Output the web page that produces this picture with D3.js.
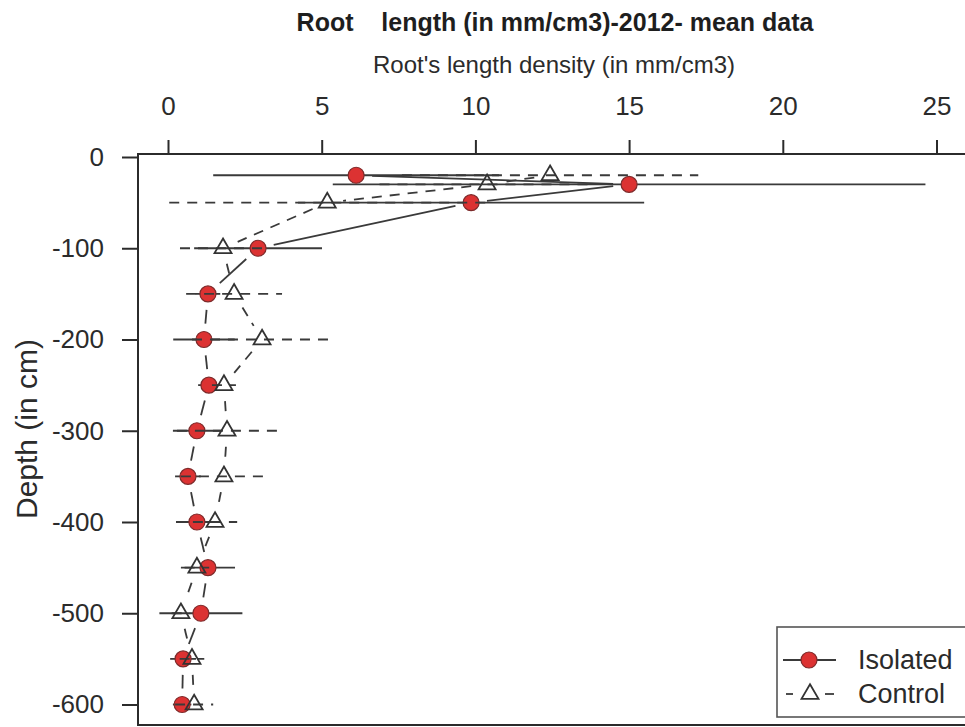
<!DOCTYPE html>
<html>
<head>
<meta charset="utf-8">
<script src="https://cdn.jsdelivr.net/npm/d3@7"></script>
<style>
  body { margin: 0; background: #fff; }
  svg { display: block; }
</style>
</head>
<body>
<div id="chart"></div>
<script>
// --- Data ---
const depths = [-20, -30, -50, -100, -150, -200, -250, -300, -350, -400, -450, -500, -550, -600];
const isolatedMean = [6.12, 15.0, 9.86, 2.93, 1.30, 1.17, 1.33, 0.94, 0.65, 0.94, 1.30, 1.07, 0.49, 0.46];
const isolatedSE = [4.65, 9.64, 5.63, 2.08, 0.40, 1.00, 0.35, 0.78, 0.42, 0.68, 0.88, 1.35, 0.42, 0.30];
const controlMean = [12.43, 10.38, 5.18, 1.79, 2.15, 3.06, 1.82, 1.92, 1.82, 1.53, 0.94, 0.42, 0.78, 0.85];
const controlSE = [4.82, 3.50, 5.14, 1.40, 1.56, 2.28, 0.39, 1.63, 1.40, 0.72, 0.40, 0.30, 0.40, 0.62];
const xTicks = [0, 5, 10, 15, 20, 25];
const yTicks = [0, -100, -200, -300, -400, -500, -600];
const seriesNames = ["Isolated", "Control"];

const W = 965, H = 727;
const font = "'Liberation Sans', Arial, Helvetica, sans-serif";
const ink = "#2b2b2b";
const lineCol = "#3a3a3a";

const svg = d3.select("#chart").append("svg")
  .attr("width", W).attr("height", H)
  .style("font-family", font);

// --- Scales (plot region continues past the right/bottom edge of the picture) ---
const box = { left: 138, top: 154, right: 985, bottom: 725 };
const x = d3.scaleLinear().domain([0, 25]).range([168, 936.5]);
const y = d3.scaleLinear().domain([-600, 0]).range([704.5, 157]);

// --- Titles ---
svg.append("text")
  .attr("x", 555).attr("y", 31)
  .attr("text-anchor", "middle")
  .style("font-size", "25px").style("font-weight", "bold").style("fill", "#1e1e1e")
  .style("white-space", "pre")
  .text("Root    length (in mm/cm3)-2012- mean data");

svg.append("text")
  .attr("x", 554).attr("y", 73)
  .attr("text-anchor", "middle")
  .style("font-size", "24px").style("fill", ink)
  .text("Root's length density (in mm/cm3)");

svg.append("text")
  .attr("transform", "translate(37,429) rotate(-90)")
  .attr("text-anchor", "middle")
  .style("font-size", "30px").style("fill", ink)
  .text("Depth (in cm)");

// --- Axes (plain hyphen for negatives, like R) ---
const xAxis = svg.append("g")
  .attr("transform", `translate(0,${box.top})`)
  .call(d3.axisTop(x).tickValues(xTicks).tickSize(14).tickPadding(25).tickFormat(d => String(d)));

const yAxis = svg.append("g")
  .attr("transform", `translate(${box.left},0)`)
  .call(d3.axisLeft(y).tickValues(yTicks).tickSize(16).tickPadding(18).tickFormat(d => String(d)));

[xAxis, yAxis].forEach(a => {
  a.select(".domain").remove();
  a.selectAll(".tick line").attr("stroke", ink).attr("stroke-width", 2);
  a.selectAll(".tick text")
    .style("font-family", font).style("font-size", "26px").attr("fill", ink);
});
xAxis.selectAll(".tick text").attr("dy", "0em");

// plot frame
svg.append("rect")
  .attr("x", box.left).attr("y", box.top)
  .attr("width", box.right - box.left).attr("height", box.bottom - box.top)
  .attr("fill", "none").attr("stroke", ink).attr("stroke-width", 2);

// --- Series drawing helpers ---
const gap = 16; // R type = "b": lines stop short of each point
function brokenSegments(means) {
  const segs = [];
  for (let i = 0; i < means.length - 1; i++) {
    const x1 = x(means[i]), y1 = y(depths[i]);
    const x2 = x(means[i + 1]), y2 = y(depths[i + 1]);
    const d = Math.hypot(x2 - x1, y2 - y1);
    if (d <= 2 * gap) continue;
    const ux = (x2 - x1) / d, uy = (y2 - y1) / d;
    segs.push([x1 + ux * gap, y1 + uy * gap, x2 - ux * gap, y2 - uy * gap]);
  }
  return segs;
}

const series = [
  { name: seriesNames[0], mean: isolatedMean, se: isolatedSE, dash: null },
  { name: seriesNames[1], mean: controlMean, se: controlSE, dash: "10,8" }
];

const tri = d3.symbol().type(d3.symbolTriangle).size(125);

series.forEach((s, k) => {
  const g = svg.append("g");
  const rows = depths.map((d, i) => ({ depth: d, mean: s.mean[i], se: s.se[i] }));

  // connecting line
  g.selectAll("line.conn")
    .data(brokenSegments(s.mean))
    .join("line")
    .attr("x1", d => d[0]).attr("y1", d => d[1])
    .attr("x2", d => d[2]).attr("y2", d => d[3])
    .attr("stroke", lineCol).attr("stroke-width", 1.8)
    .attr("stroke-dasharray", s.dash);

  // horizontal error bars
  g.selectAll("line.err")
    .data(rows)
    .join("line")
    .attr("x1", d => x(d.mean - d.se)).attr("x2", d => x(d.mean + d.se))
    .attr("y1", d => y(d.depth)).attr("y2", d => y(d.depth))
    .attr("stroke", lineCol).attr("stroke-width", 1.8)
    .attr("stroke-dasharray", s.dash);

  // points
  if (k === 0) {
    g.selectAll("circle")
      .data(rows)
      .join("circle")
      .attr("cx", d => x(d.mean)).attr("cy", d => y(d.depth))
      .attr("r", 8)
      .attr("fill", "#dc3232").attr("stroke", "#7d2b2b").attr("stroke-width", 1.2);
  } else {
    g.selectAll("path")
      .data(rows)
      .join("path")
      .attr("d", tri)
      .attr("transform", d => `translate(${x(d.mean)},${y(d.depth)})`)
      .attr("fill", "none").attr("stroke", "#333").attr("stroke-width", 1.8);
  }
});

// --- Legend ---
const lg = svg.append("g");
lg.append("rect")
  .attr("x", 777).attr("y", 627).attr("width", 260).attr("height", 90)
  .attr("fill", "#fff").attr("stroke", "#555").attr("stroke-width", 1.6);

lg.append("line")
  .attr("x1", 783).attr("x2", 836).attr("y1", 660).attr("y2", 660)
  .attr("stroke", lineCol).attr("stroke-width", 1.8);
lg.append("circle")
  .attr("cx", 809).attr("cy", 660).attr("r", 8)
  .attr("fill", "#dc3232").attr("stroke", "#7d2b2b").attr("stroke-width", 1.2);

[[786, 793], [825, 834]].forEach(([a, b]) => {
  lg.append("line")
    .attr("x1", a).attr("x2", b).attr("y1", 694).attr("y2", 694)
    .attr("stroke", lineCol).attr("stroke-width", 1.8);
});
lg.append("path")
  .attr("d", tri)
  .attr("transform", "translate(810,694)")
  .attr("fill", "none").attr("stroke", "#333").attr("stroke-width", 1.8);

lg.selectAll("text.lab")
  .data(seriesNames)
  .join("text")
  .attr("x", 858)
  .attr("y", (d, i) => 669 + i * 34)
  .style("font-size", "27px").style("fill", ink)
  .text(d => d);
</script>
</body>
</html>
